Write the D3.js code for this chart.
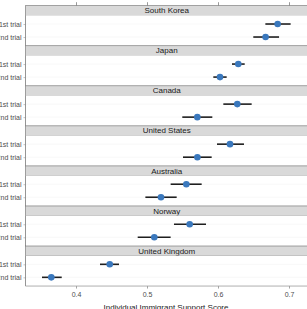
<!DOCTYPE html>
<html><head><meta charset="utf-8">
<script src="https://cdn.jsdelivr.net/npm/d3@7"></script>
<style>html,body{margin:0;padding:0;background:#fff;overflow:hidden}svg{display:block}</style>
</head><body>
<svg id="c" width="307" height="309"></svg>
<script>
const countries = ["South Korea","Japan","Canada","United States","Australia","Norway","United Kingdom"];
const trials = ["1st trial","2nd trial"];
// estimates per country: [1st trial, 2nd trial]
const est1 = [0.684,0.6286,0.6272,0.6169,0.5554,0.5601,0.4475];
const lo1  = [0.6667,0.6197,0.6075,0.5986,0.5333,0.538,0.4338];
const hi1  = [0.7023,0.6376,0.6474,0.6366,0.577,0.5831,0.4606];
const est2 = [0.667,0.6028,0.5709,0.571,0.5197,0.5103,0.3652];
const lo2  = [0.6497,0.5934,0.5497,0.5507,0.4977,0.4869,0.3521];
const hi2  = [0.686,0.6122,0.592,0.5911,0.5418,0.5333,0.3799];
const xTicks = [0.4,0.5,0.6,0.7];
const xTitle = "Individual Immigrant Support Score";

const svg = d3.select("#c");
const font = "Liberation Sans, Arial, sans-serif";
const x = d3.scaleLinear().domain([0.4,0.7]).range([76,289]);
const left = 25.5, right = 308;
const top0 = 5.7, blockH = 40.05, stripH = 9.6, panelH = 30.45;
const y = d3.scalePoint().domain(trials).range([0,panelH]).padding(0.67);

// top ticks (cropped axis above)
const gTop = svg.append("g").attr("transform",`translate(0,${top0})`)
  .call(d3.axisTop(x).tickValues(xTicks).tickSize(3.5).tickFormat(""));
gTop.select(".domain").remove();
gTop.selectAll("line").attr("stroke","#555").attr("stroke-width",0.6);

countries.forEach((c,i)=>{
  const bt = top0 + i*blockH;
  const pt = bt + stripH;
  const g = svg.append("g");
  // strip
  g.append("rect").attr("x",left).attr("y",bt).attr("width",right-left).attr("height",stripH)
    .attr("fill","#d9d9d9").attr("stroke","#6b6b6b").attr("stroke-width",0.6);
  g.append("text").attr("x",(left+right)/2).attr("y",bt+stripH/2).attr("dy","0.35em")
    .attr("text-anchor","middle").attr("font-family",font).attr("font-size",8).attr("fill","#1a1a1a").text(c);
  // panel
  const p = g.append("g").attr("transform",`translate(0,${pt})`);
  p.append("rect").attr("x",left).attr("y",0).attr("width",right-left).attr("height",panelH)
    .attr("fill","#fff").attr("stroke","none");
  p.selectAll("line.grid").data(trials).join("line").attr("class","grid")
    .attr("x1",left).attr("x2",right).attr("y1",d=>y(d)).attr("y2",d=>y(d))
    .attr("stroke","#f3f3f3").attr("stroke-width",0.6);
  p.append("line").attr("x1",left).attr("x2",left).attr("y1",0).attr("y2",panelH)
    .attr("stroke","#7a7a7a").attr("stroke-width",0.8);
  const ya = p.append("g").attr("transform",`translate(${left},0)`)
    .call(d3.axisLeft(y).tickSize(2).tickPadding(2));
  ya.select(".domain").remove();
  ya.selectAll("line").attr("stroke","#888").attr("stroke-width",0.5);
  ya.selectAll("text").attr("font-family",font).attr("font-size",7).attr("fill","#4d4d4d");
  const rows = [
    {t:trials[0], e:est1[i], lo:lo1[i], hi:hi1[i]},
    {t:trials[1], e:est2[i], lo:lo2[i], hi:hi2[i]}
  ];
  p.selectAll("line.ci").data(rows).join("line").attr("class","ci")
    .attr("x1",d=>x(d.lo)).attr("x2",d=>x(d.hi)).attr("y1",d=>y(d.t)).attr("y2",d=>y(d.t))
    .attr("stroke","#1f1f1f").attr("stroke-width",1.6);
  p.selectAll("circle").data(rows).join("circle")
    .attr("cx",d=>x(d.e)).attr("cy",d=>y(d.t)).attr("r",3.3).attr("fill","#3a78bd");
});

const bottom = top0 + (countries.length-1)*blockH + stripH + panelH;
const gx = svg.append("g").attr("transform",`translate(0,${bottom})`)
  .call(d3.axisBottom(x).tickValues(xTicks).tickSize(2.5).tickPadding(3).tickFormat(d3.format(".1f")));
gx.select(".domain").remove();
svg.append("line").attr("x1",left).attr("x2",right).attr("y1",bottom).attr("y2",bottom)
  .attr("stroke","#9a9a9a").attr("stroke-width",0.8);
gx.selectAll("line").attr("stroke","#666").attr("stroke-width",0.6);
gx.selectAll("text").attr("font-family",font).attr("font-size",7).attr("fill","#4d4d4d");
svg.append("text").attr("x",166).attr("y",bottom+24).attr("text-anchor","middle")
  .attr("font-family",font).attr("font-size",8).attr("fill","#1a1a1a").text(xTitle);
</script>
</body></html>
